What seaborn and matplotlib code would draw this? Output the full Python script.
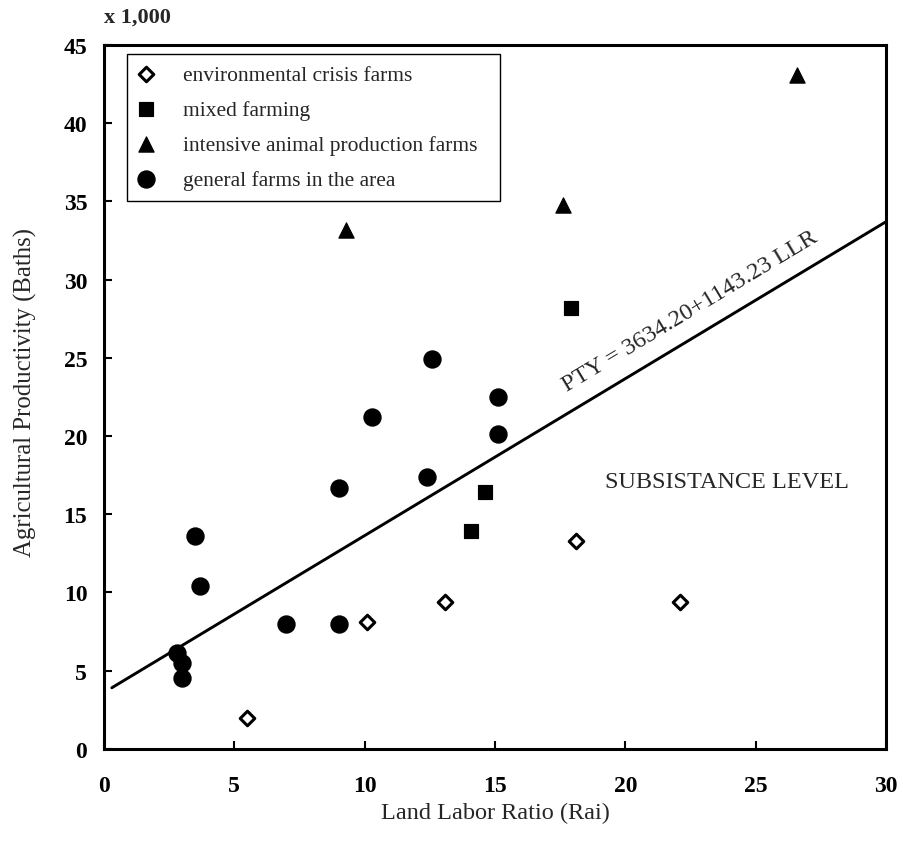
import matplotlib
matplotlib.use("Agg")
import matplotlib.pyplot as plt
import numpy as np
import pandas as pd
import seaborn as sns

# data (x = land labor ratio, y = productivity in 1,000 baths)
crisis_x = [5.5, 10.1, 13.1, 18.1, 22.1]
crisis_y = [2.0, 8.1, 9.4, 13.3, 9.4]

mixed_x = [14.1, 14.6, 17.9]
mixed_y = [13.9, 16.4, 28.2]

intensive_x = [9.3, 17.6, 26.6]
intensive_y = [33.2, 34.8, 43.1]

general_x = [2.8, 3.0, 3.0, 3.5, 3.7, 7.0, 9.0, 9.0, 10.3, 12.4, 12.6, 15.1, 15.1]
general_y = [6.1, 5.5, 4.5, 13.6, 10.4, 8.0, 8.0, 16.7, 21.2, 17.4, 24.9, 20.1, 22.5]

# regression line as drawn
line_x = [0.3, 30.0]
line_y = [3.9, 33.7]

x_ticks = [0, 5, 10, 15, 20, 25, 30]
y_ticks = [0, 5, 10, 15, 20, 25, 30, 35, 40, 45]

sns.set_style("ticks")
plt.rcParams["font.family"] = ["Liberation Serif", "DejaVu Serif"]

fig = plt.figure(figsize=(9.04, 8.53), dpi=100)
ax = fig.add_axes([0.115, 0.121, 0.865, 0.825])

crisis = pd.DataFrame({"x": crisis_x, "y": crisis_y})
mixed = pd.DataFrame({"x": mixed_x, "y": mixed_y})
intensive = pd.DataFrame({"x": intensive_x, "y": intensive_y})
general = pd.DataFrame({"x": general_x, "y": general_y})

sns.lineplot(x=line_x, y=line_y, color="black", linewidth=2.1, ax=ax)

sns.scatterplot(data=crisis, x="x", y="y", marker="D", s=55, facecolor="white",
                edgecolor="black", linewidth=2.2, label="environmental crisis farms", ax=ax)
sns.scatterplot(data=mixed, x="x", y="y", marker="s", s=110, color="black",
                edgecolor="black", label="mixed farming", ax=ax)
sns.scatterplot(data=intensive, x="x", y="y", marker="^", s=120, color="black",
                edgecolor="black", label="intensive animal production farms", ax=ax)
sns.scatterplot(data=general, x="x", y="y", marker="o", s=150, color="black",
                edgecolor="black", label="general farms in the area", ax=ax)

ax.set_xlim(0, 30)
ax.set_ylim(0, 45)
ax.set_xticks(x_ticks)
ax.set_yticks(y_ticks)
ax.set_xticklabels([str(t) for t in x_ticks], fontsize=17, fontweight="bold")
ax.set_yticklabels([str(t) for t in y_ticks], fontsize=17, fontweight="bold")
ax.tick_params(axis="both", direction="in", length=6, width=1.5, colors="black")
ax.tick_params(axis="x", pad=19)
ax.tick_params(axis="y", pad=12)
for sp in ax.spines.values():
    sp.set_visible(True)
    sp.set_linewidth(2.2)
    sp.set_color("black")

ax.set_xlabel("Land Labor Ratio (Rai)", fontsize=17.5)
ax.set_ylabel("Agricultural Productivity (Baths)", fontsize=17.8)
ax.xaxis.set_label_coords(0.5, -0.076)
ax.yaxis.set_label_coords(-0.086, 0.507)

ax.text(0.0, 1.04, "x 1,000", transform=ax.transAxes, fontsize=16,
        fontweight="bold", ha="left", va="center")
ax.text(22.5, 28.0, "PTY = 3634.20+1143.23 LLR", fontsize=17.5, rotation=31,
        ha="center", va="center")
ax.text(23.9, 17.1, "SUBSISTANCE LEVEL", fontsize=17.5, ha="center", va="center")

leg = ax.legend(loc="upper left", bbox_to_anchor=(0.029, 0.3, 0.477, 0.687),
                mode="expand", borderaxespad=0,
                fontsize=15.5, frameon=True, fancybox=False, edgecolor="black",
                framealpha=1, handlelength=0.8, handletextpad=1.3,
                labelspacing=0.69, borderpad=0.5)
leg.get_frame().set_linewidth(1.0)

fig.savefig("out.png", dpi=100, facecolor="white")
